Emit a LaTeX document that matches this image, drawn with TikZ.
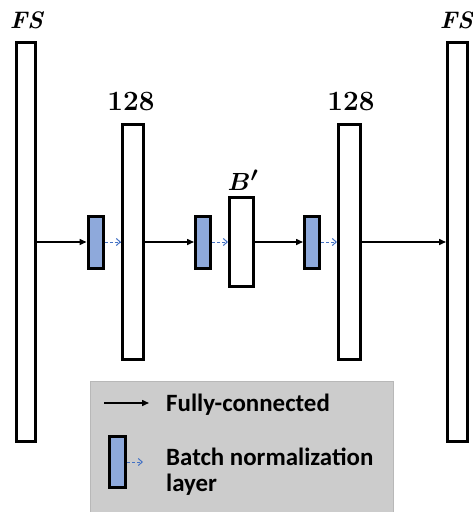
\documentclass[tikz,border=0pt]{standalone}
\usepackage{amsmath}
\usepackage{bm}
\usepackage{fontspec}
\newfontfamily\calib{Carlito}
\usetikzlibrary{arrows.meta}
\definecolor{bnfill}{HTML}{8EA9DB}
\definecolor{bnarrow}{HTML}{4472C4}
\tikzset{
  layerbox/.style={draw=black, line width=3bp, fill=white, inner sep=0pt, minimum width=#1},
  bnbox/.style={draw=black, line width=3bp, fill=bnfill, inner sep=0pt, minimum width=15bp, minimum height=52bp},
  fc/.style={line width=1.5bp, -{Triangle[length=7bp,width=6bp]}},
  bnarr/.style={bnarrow, line width=1bp, dash pattern=on 3bp off 2bp, -{Straight Barb[length=4bp,width=7bp]}},
  lbl/.style={font=\fontsize{28}{30}\selectfont\bfseries, inner sep=0pt},
  fslbl/.style={font=\fontsize{24}{26}\selectfont\bfseries, inner sep=0pt},
  legtext/.style={font=\calib\bfseries\fontsize{25}{21}\selectfont, inner sep=0pt, anchor=base west, align=left}
}
\begin{document}
\begin{tikzpicture}[x=1bp,y=-1bp]
\useasboundingbox (0,0) rectangle (473,512);
% legend background
\node[draw=black!28, fill=black!20, line width=1bp, inner sep=0pt, minimum width=303bp, minimum height=133bp] (legend) at (241.5,447.5) {};
% layers
\node[layerbox=19bp, minimum height=398bp] (fsl) at (26,242) {};
\node[layerbox=20bp, minimum height=398bp] (fsr) at (457.5,242) {};
\node[layerbox=21bp, minimum height=235bp] (h1) at (133,242) {};
\node[layerbox=22bp, minimum height=235bp] (h2) at (349.5,242) {};
\node[layerbox=24bp, minimum height=89bp] (bp) at (241.5,242) {};
\node[bnbox] (bn1) at (95.5,242) {};
\node[bnbox] (bn2) at (203,242) {};
\node[bnbox] (bn3) at (312,242) {};
% labels
\node[fslbl] (tfsl) at (27,20) {\textit{FS}};
\node[fslbl] (tfsr) at (457,20) {\textit{FS}};
\node[lbl] (th1) at (131,102) {128};
\node[lbl] (th2) at (351,102) {128};
\node[lbl] (tbp) at (243,180) {$\bm{B'}$};
% connectors
\draw[fc] (fsl.east) -- (bn1.west);
\draw[bnarr] (bn1.east) -- (h1.west);
\draw[fc] (h1.east) -- (bn2.west);
\draw[bnarr] (bn2.east) -- (bp.west);
\draw[fc] (bp.east) -- (bn3.west);
\draw[bnarr] (bn3.east) -- (h2.west);
\draw[fc] (h2.east) -- (fsr.west);
% legend content
\coordinate (la) at (104,403);
\coordinate (lb) at (149,403);
\draw[fc] (la) -- (lb);
\node[legtext] (t1) at (166,411) {Fully-connected};
\node[bnbox, minimum width=16bp, minimum height=51bp] (lbn) at (117.5,462) {};
\coordinate (lc) at (143,462);
\draw[bnarr] (lbn.east) -- (lc);
\node[legtext] (t2) at (166,491) {Batch normalization\\[5bp]layer};
\end{tikzpicture}
\end{document}
